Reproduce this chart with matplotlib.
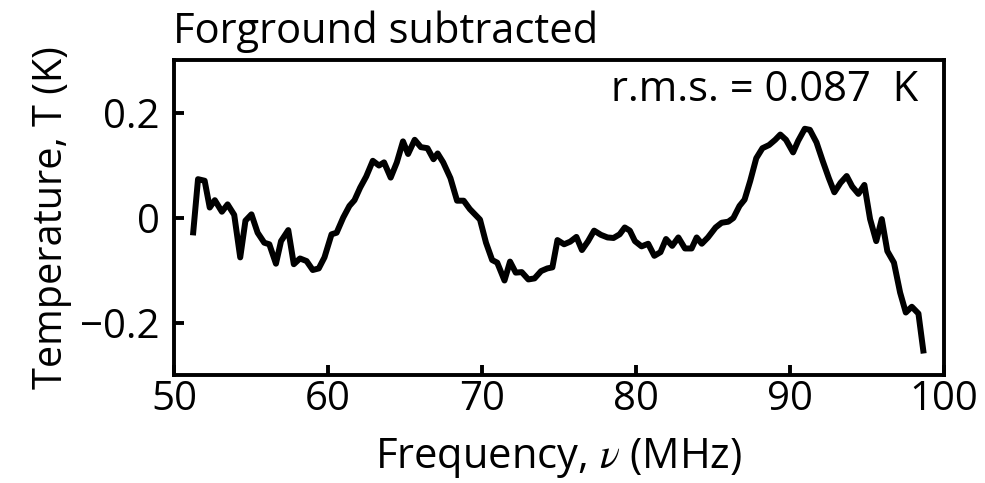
import matplotlib
matplotlib.use("Agg")
import matplotlib.pyplot as plt

freq_mhz = [51.23, 51.56, 51.99, 52.32, 52.65, 53.11, 53.48, 53.91, 54.30, 54.64,
            55.03, 55.43, 55.86, 56.19, 56.62, 56.95, 57.42, 57.78, 58.18, 58.61,
            59.01, 59.40, 59.77, 60.23, 60.56, 60.99, 61.39, 61.72, 62.09, 62.48,
            62.91, 63.31, 63.64, 64.07, 64.47, 64.87, 65.20, 65.63, 66.03, 66.46,
            66.85, 67.12, 67.48, 67.95, 68.38, 68.81, 69.21, 69.54, 69.87, 70.26,
            70.66, 70.99, 71.46, 71.82, 72.19, 72.58, 73.01, 73.41, 73.84, 74.24,
            74.57, 74.90, 75.33, 75.73, 76.13, 76.49, 76.89, 77.28, 77.72, 78.15,
            78.54, 78.94, 79.27, 79.60, 79.93, 80.36, 80.79, 81.19, 81.59, 81.95,
            82.35, 82.75, 83.18, 83.61, 83.94, 84.27, 84.67, 85.17, 85.56, 85.99,
            86.32, 86.72, 87.05, 87.42, 87.81, 88.21, 88.64, 89.04, 89.37, 89.74,
            90.20, 90.53, 90.96, 91.29, 91.72, 92.12, 92.52, 92.88, 93.28, 93.68,
            94.04, 94.44, 94.83, 95.20, 95.60, 95.96, 96.32, 96.75, 97.15, 97.52,
            97.91, 98.34, 98.68]

temp_k = [-0.034, 0.073, 0.070, 0.019, 0.033, 0.011, 0.025, 0.005, -0.076, -0.006,
          0.006, -0.029, -0.048, -0.051, -0.088, -0.045, -0.024, -0.089, -0.078, -0.083,
          -0.100, -0.097, -0.076, -0.032, -0.029, 0.000, 0.022, 0.033, 0.057, 0.078,
          0.108, 0.099, 0.105, 0.076, 0.105, 0.145, 0.121, 0.148, 0.134, 0.132,
          0.111, 0.122, 0.105, 0.075, 0.032, 0.032, 0.016, 0.006, -0.004, -0.048,
          -0.081, -0.086, -0.120, -0.084, -0.105, -0.104, -0.118, -0.116, -0.102, -0.097,
          -0.095, -0.043, -0.051, -0.046, -0.037, -0.062, -0.045, -0.025, -0.033, -0.038,
          -0.039, -0.032, -0.019, -0.025, -0.045, -0.055, -0.050, -0.073, -0.066, -0.041,
          -0.054, -0.038, -0.059, -0.059, -0.038, -0.050, -0.038, -0.019, -0.010, -0.008,
          -0.001, 0.022, 0.034, 0.070, 0.113, 0.132, 0.138, 0.148, 0.158, 0.148,
          0.124, 0.146, 0.169, 0.167, 0.143, 0.108, 0.075, 0.048, 0.066, 0.079,
          0.059, 0.045, 0.062, -0.003, -0.045, -0.003, -0.064, -0.086, -0.143, -0.181,
          -0.170, -0.183, -0.259]

xticks = [50, 60, 70, 80, 90, 100]
xtick_labels = ["50", "60", "70", "80", "90", "100"]
yticks = [-0.2, 0.0, 0.2]
ytick_labels = ["\u22120.2", "0", "0.2"]

title_text = "Forground subtracted"
xlabel_text = r"Frequency, $\nu$ (MHz)"
ylabel_text = "Temperature, T (K)"
rms_text = "r.m.s. = 0.087  K"

plt.rcParams['font.family'] = ['Open Sans', 'DejaVu Sans']
plt.rcParams['mathtext.fontset'] = 'stix'

fig = plt.figure(figsize=(9.85, 4.83), dpi=100)
ax = fig.add_axes([174/985, 1 - 375/483, (944 - 174)/985, (375 - 60)/483])

ax.plot(freq_mhz, temp_k, color='black', lw=4.3, solid_joinstyle='round',
        solid_capstyle='butt')

ax.set_xlim(50, 100)
ax.set_ylim(-0.3, 0.3)
ax.set_xticks(xticks)
ax.set_xticklabels(xtick_labels)
ax.set_yticks(yticks)
ax.set_yticklabels(ytick_labels)

for s in ax.spines.values():
    s.set_linewidth(2.8)
ax.tick_params(axis='both', which='major', direction='in', length=7, width=2.8,
               labelsize=29, top=False, right=False)
ax.tick_params(axis='x', pad=3)
ax.tick_params(axis='y', pad=10)

ax.set_xlabel(xlabel_text, fontsize=30, labelpad=12)
ax.set_ylabel(ylabel_text, fontsize=28.5, labelpad=6)

fig.text(173/985, 1 - 43/483, title_text, fontsize=30, ha='left', va='baseline')
ax.text(0.967, 0.905, rms_text, transform=ax.transAxes, fontsize=30,
        ha='right', va='center')

fig.savefig("out.png", dpi=100)
